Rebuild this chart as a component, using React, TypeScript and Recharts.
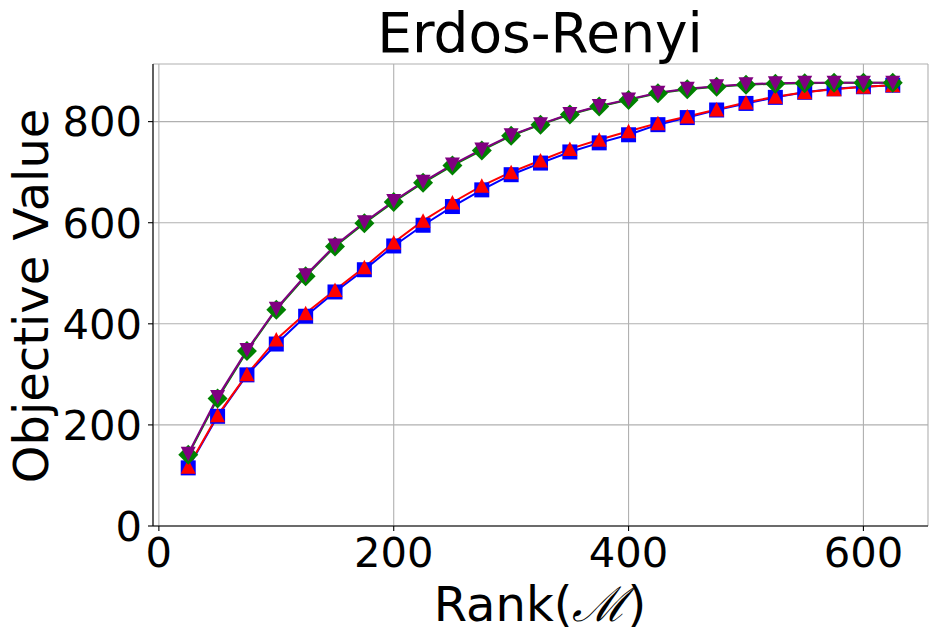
import React from "react";
import { LineChart, Line, XAxis, YAxis, CartesianGrid } from "recharts";

const ranks = [25, 50, 75, 100, 125, 150, 175, 200, 225, 250, 275, 300, 325, 350, 375, 400, 425, 450, 475, 500, 525, 550, 575, 600, 625];
const blueSquares = [115, 217, 299, 360, 415, 463, 507, 554, 595, 632, 665, 695, 718, 740, 758, 774, 794, 808, 823, 836, 848, 858, 865, 869, 872];
const redTriangles = [117, 219, 300, 369, 421, 467, 512, 561, 604, 640, 673, 700, 723, 746, 764, 781, 797, 810, 824, 838, 849, 858, 864, 869, 872];
const greenDiamonds = [141, 252, 346, 428, 494, 553, 599, 641, 679, 713, 743, 772, 794, 814, 830, 843, 856, 864, 869, 873, 875, 876, 877, 877, 877];
const purpleTriangles = [143, 255, 348, 430, 496, 555, 601, 643, 681, 715, 745, 773, 795, 815, 831, 844, 857, 865, 870, 874, 876, 877, 877, 877, 877];

const xTicks = [0, 200, 400, 600];
const yTicks = [0, 200, 400, 600, 800];

const data = ranks.map((r, i) => ({
  rank: r,
  blue: blueSquares[i],
  red: redTriangles[i],
  green: greenDiamonds[i],
  purple: purpleTriangles[i],
}));

const FONT = "DejaVu Sans, sans-serif";

const SquareDot = (props: any) => {
  const { cx, cy, index } = props;
  if (cx == null || cy == null) return <g key={`s${index}`} />;
  return <rect key={`s${index}`} x={cx - 7.5} y={cy - 7.5} width={15} height={15} fill="#0000ff" />;
};
const UpDot = (props: any) => {
  const { cx, cy, index } = props;
  if (cx == null || cy == null) return <g key={`u${index}`} />;
  return (
    <polygon key={`u${index}`} points={`${cx},${cy - 7.5} ${cx - 7.5},${cy + 7} ${cx + 7.5},${cy + 7}`} fill="#ff0000" />
  );
};
const DiamondDot = (props: any) => {
  const { cx, cy, index } = props;
  if (cx == null || cy == null) return <g key={`d${index}`} />;
  return (
    <polygon key={`d${index}`} points={`${cx},${cy - 10} ${cx + 10},${cy} ${cx},${cy + 10} ${cx - 10},${cy}`} fill="#008000" />
  );
};
const DownDot = (props: any) => {
  const { cx, cy, index } = props;
  if (cx == null || cy == null) return <g key={`p${index}`} />;
  return (
    <polygon key={`p${index}`} points={`${cx - 7.5},${cy - 7} ${cx + 7.5},${cy - 7} ${cx},${cy + 7.5}`} fill="#800080" />
  );
};

const tickStyle = { fontSize: 41.7, fill: "#000", fontFamily: FONT };

export default function App() {
  return (
    <div style={{ position: "absolute", left: 0, top: 0, width: 937, height: 641, background: "#fff" }}>
      <LineChart width={937} height={641} data={data} margin={{ top: 64, right: 9, left: 0, bottom: 0 }}>
        <CartesianGrid stroke="#b0b0b0" strokeWidth={1.1} />
        <XAxis
          type="number"
          dataKey="rank"
          domain={[-5, 655]}
          ticks={xTicks}
          height={115}
          tickSize={5}
          tickMargin={6}
          tick={tickStyle}
          stroke="#000"
          axisLine={{ stroke: "#000", strokeWidth: 1.1 }}
          tickLine={{ stroke: "#000", strokeWidth: 1.1 }}
          allowDataOverflow
        />
        <XAxis
          xAxisId="top"
          orientation="top"
          type="number"
          domain={[-5, 655]}
          height={0}
          tick={false}
          tickLine={false}
          axisLine={{ stroke: "#000", strokeWidth: 1.1 }}
          allowDataOverflow
        />
        <YAxis
          type="number"
          domain={[0, 914]}
          ticks={yTicks}
          width={153}
          tickSize={5}
          tickMargin={6}
          tick={tickStyle}
          axisLine={{ stroke: "#000", strokeWidth: 1.1 }}
          tickLine={{ stroke: "#000", strokeWidth: 1.1 }}
          allowDataOverflow
        />
        <YAxis
          yAxisId="right"
          orientation="right"
          type="number"
          domain={[0, 914]}
          width={0}
          tick={false}
          tickLine={false}
          axisLine={{ stroke: "#000", strokeWidth: 1.1 }}
          allowDataOverflow
        />
        <Line dataKey="blue" stroke="#0000ff" strokeWidth={2} dot={SquareDot} isAnimationActive={false} />
        <Line dataKey="red" stroke="#ff0000" strokeWidth={2} dot={UpDot} isAnimationActive={false} />
        <Line dataKey="green" stroke="#008000" strokeWidth={2} dot={DiamondDot} isAnimationActive={false} />
        <Line dataKey="purple" stroke="#800080" strokeWidth={2} dot={DownDot} isAnimationActive={false} />
      </LineChart>
      <svg
        width={937}
        height={641}
        style={{ position: "absolute", left: 0, top: 0, pointerEvents: "none" }}
      >
        <text x={540} y={52} textAnchor="middle" fontSize={55} fontFamily={FONT} fill="#000">
          Erdos-Renyi
        </text>
        <text x={540} y={621} textAnchor="middle" fontSize={48} fontFamily={FONT} fill="#000">
          Rank(<tspan fontFamily="DejaVu Serif, serif" fontStyle="italic">ℳ</tspan>)
        </text>
        <text
          x={0}
          y={0}
          transform="translate(48,296) rotate(-90)"
          textAnchor="middle"
          fontSize={48}
          fontFamily={FONT}
          fill="#000"
        >
          Objective Value
        </text>
      </svg>
    </div>
  );
}
